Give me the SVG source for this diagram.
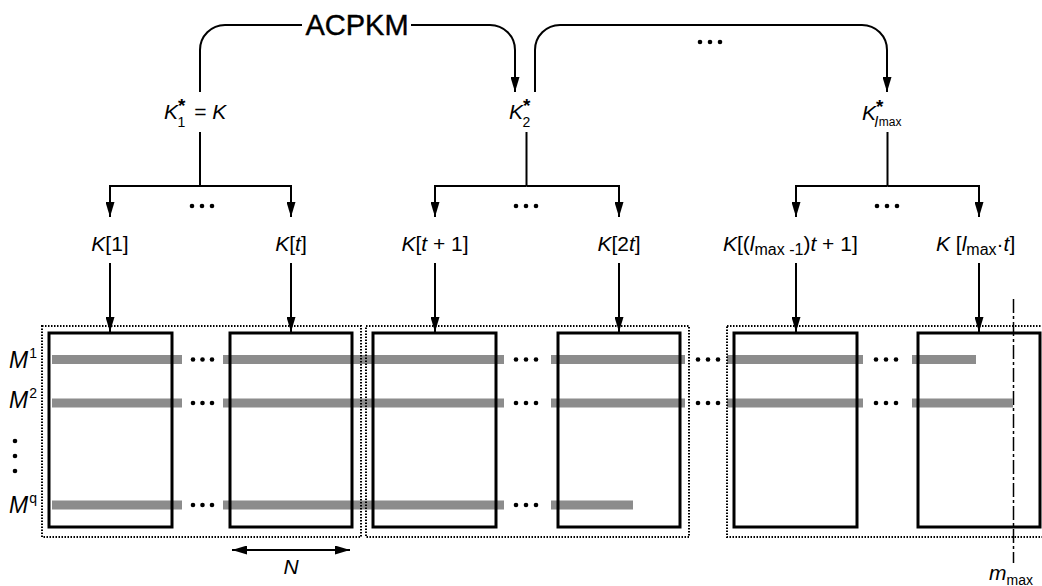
<svg xmlns="http://www.w3.org/2000/svg" width="1042" height="586" viewBox="0 0 1042 586">
<defs>
<marker id="ah" viewBox="0 0 15 9" refX="15" refY="4.5" markerWidth="15" markerHeight="9" markerUnits="userSpaceOnUse" orient="auto-start-reverse">
<path d="M0,0 L15,4.5 L0,9 z" fill="#000"/>
</marker>
<style>
.ln{fill:none;stroke:#000;stroke-width:2}
.arr{fill:none;stroke:#000;stroke-width:2;marker-end:url(#ah)}
.blk{fill:none;stroke:#000;stroke-width:3}
.dot{fill:none;stroke:#000;stroke-width:2;stroke-dasharray:1.5 1.5}
.bar{fill:#8c8c8c}
.d{fill:#000}
text{font-family:"Liberation Sans",Arial,sans-serif;font-size:21px;fill:#000}
.i{font-style:italic}
.big{font-size:29px;stroke:#000;stroke-width:0.4}
.st{font-size:19px;font-weight:bold}
</style>
</defs>
<rect width="1042" height="586" fill="#fff"/>

<g id="connectors">
<path class="ln" d="M200,92 V50 A25,25 0 0 1 225,25 H302"/>
<path class="arr" d="M411,25 H490 A25,25 0 0 1 515,50 V92"/>
<path class="arr" d="M535,92 V50 A25,25 0 0 1 560,25 H862 A25,25 0 0 1 887,50 V92"/>
<path class="ln" d="M200,132 V186"/>
<path class="arr" d="M200,186 H110 V217"/>
<path class="arr" d="M200,186 H291 V217"/>
<path class="ln" d="M526.5,132 V186"/>
<path class="arr" d="M526.5,186 H435 V217"/>
<path class="arr" d="M526.5,186 H619 V217"/>
<path class="ln" d="M887.5,132 V186"/>
<path class="arr" d="M887.5,186 H796 V217"/>
<path class="arr" d="M887.5,186 H979 V217"/>
<path class="arr" d="M110,263 V332"/>
<path class="arr" d="M291,263 V332"/>
<path class="arr" d="M435,263 V332"/>
<path class="arr" d="M619,263 V332"/>
<path class="arr" d="M796,263 V332"/>
<path class="arr" d="M979,263 V332"/>
<path class="ln" d="M232,550 H350" style="marker-start:url(#ah);marker-end:url(#ah)"/>
<path class="ln" d="M1013.5,299 V563" style="stroke-width:1.5;stroke-dasharray:14 3 3 3"/>
</g>

<g id="ellipses">
<circle class="d" cx="700" cy="42" r="2.3"/><circle class="d" cx="710" cy="42" r="2.3"/><circle class="d" cx="720" cy="42" r="2.3"/>
<circle class="d" cx="192" cy="206" r="2.3"/><circle class="d" cx="202" cy="206" r="2.3"/><circle class="d" cx="212" cy="206" r="2.3"/>
<circle class="d" cx="516" cy="206" r="2.3"/><circle class="d" cx="526" cy="206" r="2.3"/><circle class="d" cx="536" cy="206" r="2.3"/>
<circle class="d" cx="877" cy="206" r="2.3"/><circle class="d" cx="887" cy="206" r="2.3"/><circle class="d" cx="897" cy="206" r="2.3"/>
<circle class="d" cx="15" cy="441" r="2.3"/><circle class="d" cx="15" cy="456" r="2.3"/><circle class="d" cx="15" cy="471" r="2.3"/>
</g>

<g id="label-acpkm"><text class="big" x="357" y="35" text-anchor="middle">ACPKM</text></g>

<g id="node-k1star">
<text x="164" y="119"><tspan class="i">K</tspan><tspan class="st" dy="-7">*</tspan><tspan dx="-8" dy="15" style="font-size:14px">1</tspan><tspan dx="9" dy="-8">= </tspan><tspan class="i">K</tspan></text>
</g>
<g id="node-k2star">
<text x="509" y="119"><tspan class="i">K</tspan><tspan class="st" dy="-7">*</tspan><tspan dx="-8" dy="15" style="font-size:14px">2</tspan></text>
</g>
<g id="node-klmaxstar">
<text x="862" y="120"><tspan class="i">K</tspan><tspan class="st" dy="-7">*</tspan><tspan class="i" dx="-9" dy="14" style="font-size:15px">l</tspan><tspan dx="1" dy="-1" style="font-size:12px">max</tspan></text>
</g>

<g id="node-k1"><text x="110" y="251" text-anchor="middle"><tspan class="i">K</tspan>[1]</text></g>
<g id="node-kt"><text x="291" y="251" text-anchor="middle"><tspan class="i">K</tspan>[<tspan class="i">t</tspan>]</text></g>
<g id="node-kt1"><text x="435" y="251" text-anchor="middle"><tspan class="i">K</tspan>[<tspan class="i">t</tspan> + 1]</text></g>
<g id="node-k2t"><text x="619" y="251" text-anchor="middle"><tspan class="i">K</tspan>[2<tspan class="i">t</tspan>]</text></g>
<g id="node-klmax1"><text x="723" y="251"><tspan class="i">K</tspan>[(<tspan class="i">l</tspan><tspan dy="4" style="font-size:16px">max -1</tspan><tspan dy="-4">)</tspan><tspan class="i">t</tspan> + 1]</text></g>
<g id="node-klmaxt"><text x="936" y="251"><tspan class="i">K</tspan> [<tspan class="i">l</tspan><tspan dy="4" style="font-size:16px">max</tspan><tspan dy="-4">·</tspan><tspan class="i">t</tspan>]</text></g>

<g id="bars">
<rect class="bar" x="52" y="355" width="130" height="9"/>
<rect class="bar" x="223" y="355" width="281" height="9"/>
<rect class="bar" x="551" y="355" width="134" height="9"/>
<rect class="bar" x="727" y="355" width="136" height="9"/>
<rect class="bar" x="912" y="355" width="64" height="9"/>
<rect class="bar" x="52" y="398.5" width="130" height="9"/>
<rect class="bar" x="223" y="398.5" width="281" height="9"/>
<rect class="bar" x="551" y="398.5" width="134" height="9"/>
<rect class="bar" x="727" y="398.5" width="136" height="9"/>
<rect class="bar" x="912" y="398.5" width="101" height="9"/>
<rect class="bar" x="52" y="500.5" width="130" height="9"/>
<rect class="bar" x="223" y="500.5" width="281" height="9"/>
<rect class="bar" x="551" y="500.5" width="82" height="9"/>
<g>
<circle class="d" cx="193" cy="359.5" r="2.3"/><circle class="d" cx="202.5" cy="359.5" r="2.3"/><circle class="d" cx="212" cy="359.5" r="2.3"/>
<circle class="d" cx="516" cy="359.5" r="2.3"/><circle class="d" cx="526" cy="359.5" r="2.3"/><circle class="d" cx="536" cy="359.5" r="2.3"/>
<circle class="d" cx="698" cy="359.5" r="2.3"/><circle class="d" cx="708" cy="359.5" r="2.3"/><circle class="d" cx="718" cy="359.5" r="2.3"/>
<circle class="d" cx="876" cy="359.5" r="2.3"/><circle class="d" cx="886" cy="359.5" r="2.3"/><circle class="d" cx="896" cy="359.5" r="2.3"/>
<circle class="d" cx="193" cy="403" r="2.3"/><circle class="d" cx="202.5" cy="403" r="2.3"/><circle class="d" cx="212" cy="403" r="2.3"/>
<circle class="d" cx="516" cy="403" r="2.3"/><circle class="d" cx="526" cy="403" r="2.3"/><circle class="d" cx="536" cy="403" r="2.3"/>
<circle class="d" cx="698" cy="403" r="2.3"/><circle class="d" cx="708" cy="403" r="2.3"/><circle class="d" cx="718" cy="403" r="2.3"/>
<circle class="d" cx="876" cy="403" r="2.3"/><circle class="d" cx="886" cy="403" r="2.3"/><circle class="d" cx="896" cy="403" r="2.3"/>
<circle class="d" cx="193" cy="505" r="2.3"/><circle class="d" cx="202.5" cy="505" r="2.3"/><circle class="d" cx="212" cy="505" r="2.3"/>
<circle class="d" cx="516" cy="505" r="2.3"/><circle class="d" cx="526" cy="505" r="2.3"/><circle class="d" cx="536" cy="505" r="2.3"/>
</g>
</g>

<g id="group-1"><rect class="dot" x="42" y="326" width="319" height="211"/></g>
<g id="group-2"><rect class="dot" x="366" y="326" width="323" height="211"/></g>
<g id="group-3"><rect class="dot" x="727" y="326" width="330" height="211"/></g>

<g id="block-1"><rect class="blk" x="49" y="333" width="123" height="194"/></g>
<g id="block-2"><rect class="blk" x="230" y="333" width="122" height="194"/></g>
<g id="block-3"><rect class="blk" x="373" y="333" width="123" height="194"/></g>
<g id="block-4"><rect class="blk" x="558" y="333" width="122" height="194"/></g>
<g id="block-5"><rect class="blk" x="734" y="333" width="123" height="194"/></g>
<g id="block-6"><rect class="blk" x="918" y="333" width="122" height="194"/></g>

<g id="label-m1"><text x="9" y="368"><tspan class="i" style="font-size:23px">M</tspan><tspan dx="1" dy="-10" style="font-size:14px">1</tspan></text></g>
<g id="label-m2"><text x="9" y="408"><tspan class="i" style="font-size:23px">M</tspan><tspan dx="1" dy="-10" style="font-size:14px">2</tspan></text></g>
<g id="label-mq"><text x="9" y="513"><tspan class="i" style="font-size:23px">M</tspan><tspan dx="1" dy="-10" style="font-size:14px">q</tspan></text></g>
<g id="label-n"><text class="i" x="291" y="574" text-anchor="middle">N</text></g>
<g id="label-mmax"><text x="989" y="580"><tspan class="i">m</tspan><tspan dy="5" style="font-size:14px">max</tspan></text></g>
</svg>
